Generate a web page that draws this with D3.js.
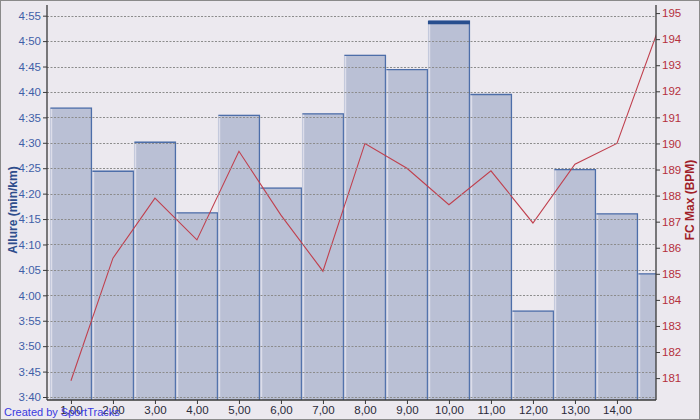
<!DOCTYPE html>
<html><head><meta charset="utf-8">
<script src="https://cdn.jsdelivr.net/npm/d3@7"></script>
<style>
html,body{margin:0;padding:0;background:#fff;}
svg{display:block;font-family:"Liberation Sans",Arial,sans-serif;}
</style></head>
<body><svg id="c" width="700" height="420"></svg>
<script>
// ---- data ----
const categories = [1,2,3,4,5,6,7,8,9,10,11,12,13,14,15];
// pace (seconds per km)
const pace = [276.9,264.5,270.2,256.3,275.5,261.2,275.8,287.3,284.5,294.0,279.6,237.0,264.8,256.1,244.3];
// FC Max (BPM)
const hrMax = [180.9,185.6,187.9,186.3,189.7,187.25,185.1,190.0,189.05,187.65,188.95,186.95,189.2,190.0,194.45];
const paceTicks = [220,225,230,235,240,245,250,255,260,265,270,275,280,285,290,295];
const hrTicks = [181,182,183,184,185,186,187,188,189,190,191,192,193,194,195];
const xTicks = [1,2,3,4,5,6,7,8,9,10,11,12,13,14];
const selectedCategory = 10;

// ---- layout ----
const W = 700, H = 420;
const L = 47, R = 656, T = 5, B = 400;
const tickFont = "'Liberation Sans Narrow','Arial Narrow','Liberation Sans',Arial,sans-serif";
const svg = d3.select("#c");

svg.append("rect").attr("x",0.5).attr("y",0.5).attr("width",W-1).attr("height",H-1)
  .attr("fill","#ECE9EF").attr("stroke","#8a8a8a");

const x = d3.scaleLinear().domain([0.43,14.93]).range([L,R]);
const yL = d3.scaleLinear().domain([219.41,297.1]).range([B,T]);
const yR = d3.scaleLinear().domain([180.16,195.31]).range([B,T]);

const fmtPace = s => { const m = Math.floor(s/60), sec = Math.round(s-m*60); return m+":"+String(sec).padStart(2,"0"); };

svg.append("defs").append("clipPath").attr("id","plot")
  .append("rect").attr("x",L).attr("y",T).attr("width",R-L).attr("height",B-T);

const plot = svg.append("g").attr("clip-path","url(#plot)");

// bars
const bars = plot.selectAll("g.bar").data(categories).enter().append("g").attr("class","bar");
bars.append("rect")
  .attr("x",d=>x(d-0.5)).attr("y",(d,i)=>yL(pace[i]))
  .attr("width",d=>x(d+0.5)-x(d-0.5)).attr("height",(d,i)=>B-yL(pace[i]))
  .attr("fill","#BAC0D5");
bars.append("line")
  .attr("x1",d=>x(d-0.5)+1.5).attr("x2",d=>x(d-0.5)+1.5)
  .attr("y1",(d,i)=>yL(pace[i])+1).attr("y2",B)
  .attr("stroke","#DCDDEA").attr("stroke-width",1.5);
bars.append("path")
  .attr("d",(d,i)=>{const x0=x(d-0.5)+0.5,x1=x(d+0.5)-0.5,y0=yL(pace[i])+0.5;return `M${x0},${y0}H${x1}V${B}`;})
  .attr("fill","none").attr("stroke","#4D6EA9").attr("stroke-width",1.3);
bars.filter(d=>d===selectedCategory).append("rect")
  .attr("x",d=>x(d-0.5)).attr("y",d=>yL(pace[categories.indexOf(d)]))
  .attr("width",d=>x(d+0.5)-x(d-0.5)).attr("height",3.5).attr("fill","#274E8E");

// grid lines
svg.append("g").selectAll("line").data(paceTicks).enter().append("line")
  .attr("x1",L).attr("x2",R).attr("y1",d=>Math.round(yL(d))+0.5).attr("y2",d=>Math.round(yL(d))+0.5)
  .attr("stroke","#8c8c8c").attr("stroke-width",1).attr("stroke-dasharray","2,1.5");

// HR line
plot.append("path").datum(categories)
  .attr("d",d3.line().x(d=>x(d)).y((d,i)=>yR(hrMax[i])))
  .attr("fill","none").attr("stroke","#C0404E").attr("stroke-width",1.1);

// axes
const axL = svg.append("g").attr("transform",`translate(${L},0)`)
  .call(d3.axisLeft(yL).tickValues(paceTicks).tickFormat(fmtPace).tickSize(4).tickPadding(2));
const axR = svg.append("g").attr("transform",`translate(${R},0)`)
  .call(d3.axisRight(yR).tickValues(hrTicks).tickFormat(d3.format("d")).tickSize(4).tickPadding(2));
const axB = svg.append("g").attr("transform",`translate(0,${B})`)
  .call(d3.axisBottom(x).tickValues(xTicks).tickFormat(d=>d+",00").tickSize(4).tickPadding(2));

[axL,axR,axB].forEach(a=>{
  a.select(".domain").attr("stroke","#3a3a3a").attr("stroke-width",1.3);
  a.selectAll(".tick line").attr("stroke","#3a3a3a");
  a.selectAll("text").attr("font-size",11.5).attr("font-family",tickFont);
});
axL.select(".domain").attr("d",`M0,${T}V${B}`);
axR.select(".domain").attr("d",`M0,${T}V${B}`);
axB.select(".domain").attr("d",`M${L},0H${R}`);
axL.selectAll("text").attr("fill","#3F5FA8");
axR.selectAll("text").attr("fill","#B5303C");
axB.selectAll("text").attr("fill","#2a2a3a");

// axis titles
svg.append("text").attr("transform","translate(17,210) rotate(-90)")
  .attr("text-anchor","middle").attr("font-size",12).attr("font-weight","bold")
  .attr("fill","#2E4D8C").text("Allure (min/km)");
svg.append("text").attr("transform","translate(694,200) rotate(-90)")
  .attr("text-anchor","middle").attr("font-size",12).attr("font-weight","bold")
  .attr("fill","#A01E28").text("FC Max (BPM)");

svg.append("text").attr("x",4).attr("y",416).attr("font-size",11)
  .attr("fill","#3A3AE0").text("Created by SportTracks");
</script></body></html>
